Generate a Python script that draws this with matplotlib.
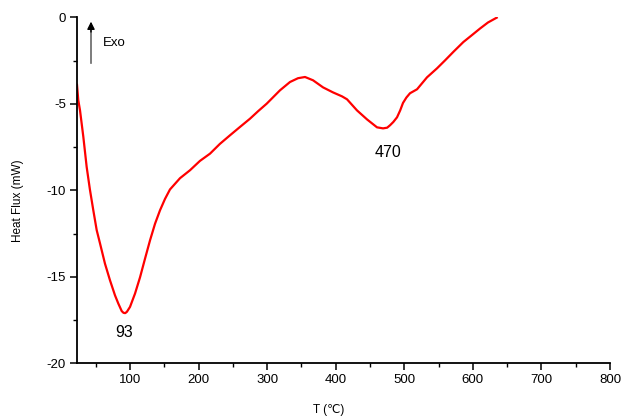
import numpy as np
import matplotlib.pyplot as plt

plt.rcParams['font.family'] = ['Liberation Sans', 'DejaVu Sans']
plt.rcParams['axes.unicode_minus'] = False

# DSC curve
T = [22.7, 24.6, 27.1, 31.9, 36.8, 41.5, 46.5, 51.4, 56.2, 63.5, 70.8, 78.1,
     83.0, 87.9, 90.5, 93.0, 95.5, 100.0, 107.3, 114.6, 121.9, 129.2, 136.5,
     143.7, 151.0, 158.3, 172.9, 187.5, 202.0, 216.7, 231.0, 245.8,
     260.0, 275.0, 287.0, 299.4, 318.7, 333.3, 345.0, 355.2, 366.9, 381.5,
     396.0, 409.2, 416.5, 431.0, 445.6, 460.2, 469.0, 475.0, 479.2, 484.0,
     489.4, 494.0, 498.1, 503.0, 508.3, 518.6, 533.1, 547.7, 559.4, 572.0,
     586.1, 598.0, 610.4, 622.0, 634.8]
HF = [-3.9, -4.8, -5.38, -6.9, -8.65, -9.95, -11.16, -12.3, -13.06, -14.24,
      -15.2, -16.07, -16.55, -16.98, -17.08, -17.1, -17.02, -16.74, -15.97,
      -15.03, -13.95, -12.89, -11.93, -11.16, -10.5, -9.95, -9.3, -8.84, -8.3,
      -7.88, -7.32, -6.82, -6.35, -5.86, -5.42, -4.99, -4.22, -3.74, -3.52,
      -3.45, -3.64, -4.05, -4.34, -4.57, -4.74, -5.38, -5.9, -6.36, -6.42,
      -6.38, -6.24, -6.05, -5.78, -5.38, -4.95, -4.64, -4.39, -4.16, -3.47,
      -2.95, -2.49, -1.98, -1.43, -1.05, -0.65, -0.3, -0.02]

peaks_T = [93, 470]
peaks_label_xy = [(91, -18.2), (476, -7.8)]

fig = plt.figure(figsize=(6.24, 4.19), dpi=100)
ax = fig.add_axes([0.1234, 0.1329, 0.8542, 0.8258])
ax.plot(T, HF, color='red', lw=1.6, solid_joinstyle='round')

for t, (lx, ly) in zip(peaks_T, peaks_label_xy):
    ax.text(lx, ly, str(t), fontsize=11.5, ha='center', va='center')

# exo arrow: grey stem, black head
ax.plot([43.1, 43.1], [-2.66, -0.7], color='0.4', lw=1.2)
ax.annotate('', xy=(43.1, -0.25), xytext=(43.1, -0.85),
            arrowprops=dict(arrowstyle='-|>', color='black', lw=1.0,
                            mutation_scale=11, shrinkA=0, shrinkB=0))
ax.text(60, -1.5, 'Exo', fontsize=9.5, ha='left', va='center')

ax.set_xlim(22.7, 800)
ax.set_ylim(-20, 0)
ax.set_xticks(np.arange(100, 801, 100))
ax.set_xticks(np.arange(50, 801, 100), minor=True)
ax.set_yticks(np.arange(-20, 1, 5))
ax.set_yticks(np.arange(-17.5, 0, 5), minor=True)
for s in ['top', 'right']:
    ax.spines[s].set_visible(False)
for s in ['left', 'bottom']:
    ax.spines[s].set_linewidth(1.3)
ax.tick_params(which='major', direction='out', length=5, width=1.1,
               labelsize=9.5, pad=3)
ax.tick_params(which='minor', direction='out', length=3, width=1.0)

ax.set_xlabel('T (℃)', fontsize=8.5)
ax.set_ylabel('Heat Flux (mW)', fontsize=8.5)
ax.xaxis.set_label_coords(0.473, -0.118)
ax.yaxis.set_label_coords(-0.1, 0.47)

fig.savefig('out.png', dpi=100)
